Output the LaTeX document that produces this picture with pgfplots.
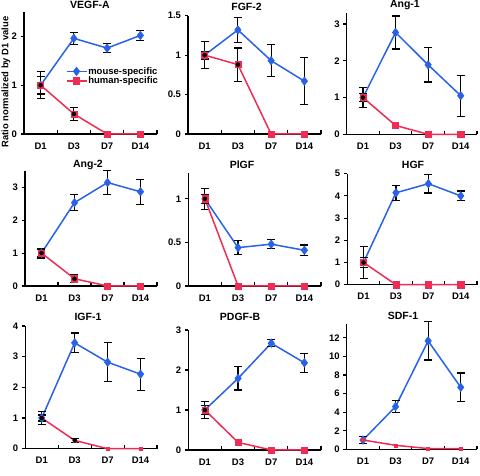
\documentclass[border=0pt]{standalone}
\usepackage{fontspec}
\setmainfont{Liberation Sans}
\usepackage{pgfplots}
\pgfplotsset{compat=1.18}
\definecolor{mblue}{RGB}{41,98,230}
\definecolor{hred}{RGB}{238,44,84}
\pgfplotsset{
 panel/.style={
   scale only axis, anchor=south west, clip=false,
   xmin=0, xmax=4, ymin=0,
   axis lines*=left,
   axis line style={line width=1.1pt, black},
   xtick={1,2,3,4}, xticklabels={},
   extra x ticks={0.5,1.5,2.5,3.5},
   extra x tick labels={D1,D3,D7,D14},
   extra x tick style={major tick length=0pt},
   xticklabel style={yshift=-5pt},
   xtick align=inside, ytick align=outside,
   major tick length=3.5pt,
   every tick/.style={black, line width=1.1pt},
   /pgf/number format/assume math mode=true,
   tick label style={font=\fontsize{9.5}{10}\selectfont\bfseries},
   every axis title shift=0pt,
   title style={font=\fontsize{10.5}{12}\selectfont\bfseries, anchor=center},
 },
 mouse/.style={color=mblue, line width=1.5pt, mark=diamond*, mark size=4.3pt,
   mark options={solid, line width=0.5pt},
   error bars/.cd, y dir=both, y explicit,
   error bar style={draw=black, line width=1.2pt},
   error mark options={rotate=90, draw=black, mark size=4pt, line width=1.2pt}},
 human/.style={color=hred, line width=1.5pt, mark=square*, mark size=3.1pt,
   mark options={solid, line width=0.5pt}},
 herr/.style={forget plot, only marks, mark=none,
   error bars/.cd, y dir=both, y explicit,
   error bar style={draw=black, line width=1.2pt},
   error mark options={rotate=90, draw=black, mark size=4pt, line width=1.2pt}},
}
\begin{document}
\begin{tikzpicture}
\useasboundingbox (0,0) rectangle (480pt,476pt);

% ---------- VEGF-A ----------
\begin{axis}[panel, at={(24pt,342pt)}, width=133pt, height=122pt,
  ymax=2.5, ytick={0,1,2},
  title={VEGF-A}, title style={at={(axis description cs:0.496,1)}, anchor=center, yshift=7pt},
  ylabel={Ratio normalized by D1 value},
  ylabel style={at={(axis description cs:-0.135,0.426)}, anchor=center,
    font=\fontsize{9.4}{10}\selectfont\bfseries},
  legend style={draw=none, fill=none, at={(axis description cs:0.29,0.475)}, anchor=west,
    font=\fontsize{9.5}{10}\selectfont\bfseries, row sep=1pt,
    nodes={inner xsep=1pt, inner ysep=0pt}},
  legend cell align=left,
  legend image code/.code={\draw[mark repeat=2,mark phase=2,#1] plot coordinates {(0pt,0pt) (10pt,0pt) (20pt,0pt)};},
]
\addplot[mouse] table[x index=0, y index=1, y error index=2] {
0.5 1.00 0.18
1.5 1.96 0.12
2.5 1.76 0.09
3.5 2.02 0.10
};
\addlegendentry{mouse-specific}
\addplot[human] table[x index=0, y index=1] {
0.5 1.00
1.5 0.41
2.5 0
3.5 0
};
\addlegendentry{human-specific}
\addplot[herr] table[x index=0, y index=1, y error index=2] {
0.5 1.00 0.28
1.5 0.41 0.135
};
\end{axis}

% ---------- FGF-2 ----------
\begin{axis}[panel, at={(188pt,342pt)}, width=133pt, height=118.3pt,
  ymax=1.5, ytick={0,0.5,1,1.5},
  title={FGF-2}, title style={at={(axis description cs:0.44,1)}, anchor=center, yshift=9pt}]
\addplot[mouse] table[x index=0, y index=1, y error index=2] {
0.5 1.00 0.17
1.5 1.32 0.16
2.5 0.93 0.20
3.5 0.67 0.295
};
\addplot[human] table[x index=0, y index=1] {
0.5 1.00
1.5 0.88
2.5 0
3.5 0
};
\addplot[herr] table[x index=0, y index=1, y error index=2] {
0.5 1.00 0.05
1.5 0.88 0.21
};
\end{axis}

% ---------- Ang-1 ----------
\begin{axis}[panel, at={(346.7pt,341.7pt)}, width=130.3pt, height=121.3pt,
  ymax=3.3, ytick={0,1,2,3},
  title={Ang-1}, title style={at={(axis description cs:0.447,1)}, anchor=center, yshift=8pt}]
\addplot[mouse] table[x index=0, y index=1, y error index=2] {
0.5 1.00 0.27
1.5 2.77 0.45
2.5 1.89 0.47
3.5 1.05 0.56
};
\addplot[human] table[x index=0, y index=1] {
0.5 1.00
1.5 0.24
2.5 0
3.5 0
};
\addplot[herr] table[x index=0, y index=1, y error index=2] {
0.5 1.00 0.10
};
\end{axis}

% ---------- Ang-2 ----------
\begin{axis}[panel, at={(25pt,190pt)}, width=132pt, height=115.3pt,
  ymax=3.5, ytick={0,1,2,3},
  title={Ang-2}, title style={at={(axis description cs:0.477,1)}, anchor=center, yshift=6pt}]
\addplot[mouse] table[x index=0, y index=1, y error index=2] {
0.5 1.00 0.15
1.5 2.53 0.25
2.5 3.14 0.36
3.5 2.86 0.38
};
\addplot[human] table[x index=0, y index=1] {
0.5 1.00
1.5 0.22
2.5 0
3.5 0
};
\addplot[herr] table[x index=0, y index=1, y error index=2] {
0.5 1.00 0.10
1.5 0.22 0.12
};
\end{axis}

% ---------- PlGF ----------
\begin{axis}[panel, at={(188.3pt,190pt)}, width=132.7pt, height=113.3pt,
  ymax=1.3, ytick={0,0.5,1},
  title={PlGF}, title style={at={(axis description cs:0.405,1)}, anchor=center, yshift=7.7pt}]
\addplot[mouse] table[x index=0, y index=1, y error index=2] {
0.5 1.00 0.12
1.5 0.44 0.08
2.5 0.48 0.05
3.5 0.41 0.06
};
\addplot[human] table[x index=0, y index=1] {
0.5 1.00
1.5 0
2.5 0
3.5 0
};
\addplot[herr] table[x index=0, y index=1, y error index=2] {
0.5 1.00 0.05
};
\end{axis}

% ---------- HGF ----------
\begin{axis}[panel, at={(347.3pt,191.3pt)}, width=129.7pt, height=111pt,
  ymax=5, ytick={0,1,2,3,4,5},
  title={HGF}, title style={at={(axis description cs:0.507,1)}, anchor=center, yshift=8.7pt}]
\addplot[mouse] table[x index=0, y index=1, y error index=2] {
0.5 1.00 0.72
1.5 4.14 0.33
2.5 4.55 0.42
3.5 4.00 0.22
};
\addplot[human] table[x index=0, y index=1] {
0.5 1.00
1.5 0
2.5 0
3.5 0
};
\addplot[herr] table[x index=0, y index=1, y error index=2] {
0.5 1.00 0.22
};
\end{axis}

% ---------- IGF-1 ----------
\begin{axis}[panel, at={(25.3pt,27.3pt)}, width=131.7pt, height=122.7pt,
  ymax=4, ytick={0,1,2,3,4},
  title={IGF-1}, title style={at={(axis description cs:0.476,1)}, anchor=center, yshift=9.3pt}]
\addplot[mouse] table[x index=0, y index=1, y error index=2] {
0.5 1.00 0.20
1.5 3.45 0.32
2.5 2.82 0.64
3.5 2.43 0.52
};
\addplot[human, mark size=1.5pt] table[x index=0, y index=1] {
0.5 1.00
1.5 0.27
2.5 0
3.5 0
};
\addplot[herr] table[x index=0, y index=1, y error index=2] {
0.5 1.00 0.10
1.5 0.27 0.07
};
\end{axis}

% ---------- PDGF-B ----------
\begin{axis}[panel, at={(188.3pt,26pt)}, width=132.7pt, height=120pt,
  ymax=3, ytick={0,1,2,3},
  title={PDGF-B}, title style={at={(axis description cs:0.39,1)}, anchor=center, yshift=13.3pt}]
\addplot[mouse] table[x index=0, y index=1, y error index=2] {
0.5 1.00 0.22
1.5 1.79 0.29
2.5 2.67 0.09
3.5 2.18 0.24
};
\addplot[human] table[x index=0, y index=1] {
0.5 1.00
1.5 0.19
2.5 0
3.5 0
};
\addplot[herr] table[x index=0, y index=1, y error index=2] {
0.5 1.00 0.12
};
\end{axis}

% ---------- SDF-1 ----------
\begin{axis}[panel, at={(346.7pt,26.7pt)}, width=130.3pt, height=125.3pt,
  ymax=13.5, ytick={0,2,4,6,8,10,12},
  title={SDF-1}, title style={at={(axis description cs:0.432,1)}, anchor=center, yshift=8pt}]
\addplot[mouse] table[x index=0, y index=1, y error index=2] {
0.5 1.00 0.35
1.5 4.60 0.65
2.5 11.68 2.07
3.5 6.68 1.53
};
\addplot[human, mark size=1.5pt] table[x index=0, y index=1] {
0.5 1.00
1.5 0.43
2.5 0.08
3.5 0.08
};
\end{axis}
\end{tikzpicture}
\end{document}
